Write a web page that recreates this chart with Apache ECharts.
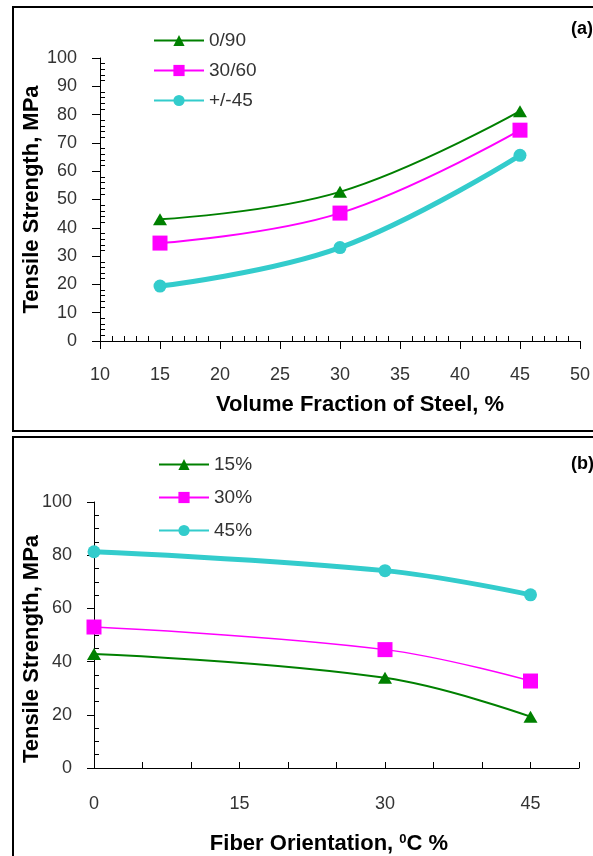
<!DOCTYPE html>
<html>
<head>
<meta charset="utf-8">
<script src="https://cdn.jsdelivr.net/npm/echarts@6/dist/echarts.min.js"></script>
<style>
  html, body { margin: 0; padding: 0; background: #fff; }
  #main { width: 593px; height: 856px; }
</style>
</head>
<body>
<div id="main"></div>
<script>
// panel (a): tensile strength vs volume fraction of steel
var fractionX = [15, 30, 45];
var s090 = [43, 52.7, 81.2];
var s3060 = [34.6, 45.2, 74.5];
var s45 = [19.4, 33, 65.6];
var namesA = ['0/90', '30/60', '+/-45'];

// panel (b): tensile strength vs fiber orientation
var orientX = [0, 30, 45];
var v15 = [42.9, 33.9, 19.3];
var v30 = [53, 44.5, 32.7];
var v45 = [81.3, 74.2, 65.1];
var namesB = ['15%', '30%', '45%'];

var GREEN = '#008000', PINK = '#ff00ff', CYAN = '#33cccc';
var FONT = 'Liberation Sans';

function pairs(xs, ys) {
  return xs.map(function (x, i) { return [x, ys[i]]; });
}

function lineSeries(name, xi, data, color, width, symbol, size) {
  return {
    name: name,
    type: 'line',
    xAxisIndex: xi,
    yAxisIndex: xi,
    data: data,
    smooth: 0.4,
    symbol: symbol,
    symbolSize: size,
    itemStyle: { color: color },
    lineStyle: { color: color, width: width },
    z: 3
  };
}

var labelStyle = { color: '#333', fontFamily: FONT, fontSize: 18 };
var titleStyle = { color: '#000', fontFamily: FONT, fontSize: 22, fontWeight: 'bold' };

var chart = echarts.init(document.getElementById('main'));
var option = {
  backgroundColor: '#fff',
  animation: false,
  grid: [
    { left: 100, top: 58, width: 480, height: 283 },
    { left: 94, top: 502, width: 485, height: 267 }
  ],
  legend: [
    {
      data: namesA, orient: 'vertical', left: 148, top: 26,
      itemWidth: 50, itemHeight: 14, itemGap: 11,
      textStyle: { color: '#333', fontFamily: FONT, fontSize: 19 }
    },
    {
      data: namesB, orient: 'vertical', left: 153, top: 450,
      itemWidth: 50, itemHeight: 14, itemGap: 14,
      textStyle: { color: '#333', fontFamily: FONT, fontSize: 19 }
    }
  ],
  xAxis: [
    {
      type: 'value', gridIndex: 0, min: 10, max: 50, interval: 5,
      name: 'Volume Fraction of Steel, %', nameLocation: 'middle', nameGap: 53,
      nameMoveOverlap: false,
      nameTextStyle: Object.assign({ padding: [0, 0, 0, 40] }, titleStyle),
      axisLine: { lineStyle: { color: '#000', width: 1 } },
      axisTick: { show: true, length: 8, lineStyle: { color: '#000' } },
      minorTick: { show: true, splitNumber: 5, length: -5, lineStyle: { color: '#000' } },
      axisLabel: Object.assign({ margin: 25 }, labelStyle),
      splitLine: { show: false }
    },
    {
      type: 'value', gridIndex: 1, min: 0, max: 50, interval: 5,
      name: 'Fiber Orientation, {sup|0}C %', nameLocation: 'middle', nameGap: 65,
      nameMoveOverlap: false,
      nameTextStyle: Object.assign({
        padding: [0, 15, 0, 0],
        rich: { sup: { fontFamily: FONT, fontSize: 13, fontWeight: 'bold', color: '#000', verticalAlign: 'top', padding: [0, 0, 8, 0] } }
      }, titleStyle),
      axisLine: { lineStyle: { color: '#000', width: 1 } },
      axisTick: { show: true, inside: true, length: 6, lineStyle: { color: '#000' } },
      axisLabel: Object.assign({
        margin: 27,
        formatter: function (v) { return (v % 15 === 0 && v <= 45) ? String(v) : ''; }
      }, labelStyle),
      splitLine: { show: false }
    }
  ],
  yAxis: [
    {
      type: 'value', gridIndex: 0, min: 0, max: 100, interval: 10,
      name: 'Tensile Strength, MPa', nameLocation: 'middle', nameGap: 57,
      nameMoveOverlap: false,
      nameTextStyle: titleStyle,
      axisLine: { show: true, lineStyle: { color: '#000', width: 1 } },
      axisTick: { show: true, length: 8, lineStyle: { color: '#000' } },
      minorTick: { show: true, splitNumber: 5, length: -5, lineStyle: { color: '#000' } },
      axisLabel: Object.assign({ margin: 23 }, labelStyle),
      splitLine: { show: false }
    },
    {
      type: 'value', gridIndex: 1, min: 0, max: 100, interval: 20,
      name: 'Tensile Strength, MPa', nameLocation: 'middle', nameGap: 51,
      nameMoveOverlap: false,
      nameTextStyle: Object.assign({ padding: [0, 28, 0, 0] }, titleStyle),
      axisLine: { show: true, lineStyle: { color: '#000', width: 1 } },
      axisTick: { show: true, length: 7, lineStyle: { color: '#000' } },
      minorTick: { show: true, splitNumber: 4, length: -5, lineStyle: { color: '#000' } },
      axisLabel: Object.assign({ margin: 22 }, labelStyle),
      splitLine: { show: false }
    }
  ],
  series: [
    lineSeries(namesA[0], 0, pairs(fractionX, s090), GREEN, 2, 'triangle', [14, 12]),
    lineSeries(namesA[1], 0, pairs(fractionX, s3060), PINK, 2, 'rect', 15),
    lineSeries(namesA[2], 0, pairs(fractionX, s45), CYAN, 5, 'circle', 13),
    lineSeries(namesB[0], 1, pairs(orientX, v15), GREEN, 2, 'triangle', [14, 12]),
    lineSeries(namesB[1], 1, pairs(orientX, v30), PINK, 1.5, 'rect', 15),
    lineSeries(namesB[2], 1, pairs(orientX, v45), CYAN, 5, 'circle', 13)
  ],
  graphic: [
    { type: 'rect', shape: { x: 13, y: 7, width: 600, height: 424 },
      style: { fill: 'none', stroke: '#000', lineWidth: 2 }, z: 10 },
    { type: 'rect', shape: { x: 13, y: 437, width: 600, height: 440 },
      style: { fill: 'none', stroke: '#000', lineWidth: 2 }, z: 10 },
    { type: 'text', left: 571, top: 20,
      style: { text: '(a)', fill: '#000', font: 'bold 18px "Liberation Sans"' } },
    { type: 'text', left: 571, top: 455,
      style: { text: '(b)', fill: '#000', font: 'bold 18px "Liberation Sans"' } }
  ]
};
chart.setOption(option);
</script>
</body>
</html>
